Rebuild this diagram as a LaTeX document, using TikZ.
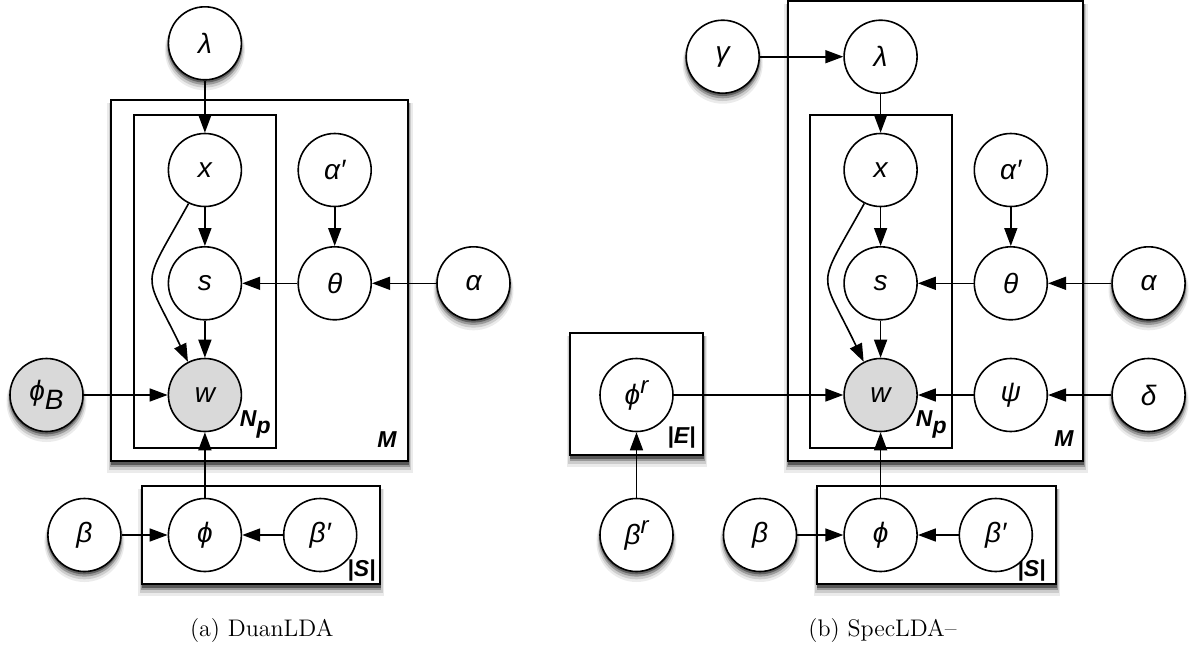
\documentclass[tikz,border=0pt]{standalone}
\usepackage{fontspec}
\usepackage{tikz}
\usetikzlibrary{arrows.meta}
\newfontfamily\graphfont{Liberation Sans}
\definecolor{obsgray}{HTML}{D9D9D9}

\begin{document}
\begin{tikzpicture}[x=0.5pt, y=-0.5pt,
  var/.style={circle, draw, line width=0.8pt, fill=white, minimum size=36.5pt, inner sep=0pt, font=\graphfont\itshape\fontsize{14}{16}\selectfont},
  obs/.style={var, fill=obsgray},
  plate/.style={draw, line width=1pt, fill=white},
  platelabel/.style={inner sep=0pt, font=\graphfont\bfseries\itshape\fontsize{11.5}{13}\selectfont},
  edge/.style={-{Triangle[length=9pt, width=6.5pt]}, line width=0.8pt},
  caption/.style={font=\fontsize{12}{14}\selectfont}]
  \useasboundingbox (0,0) rectangle (1190,649);

  % soft shadows under the outer plates and free variables
  \foreach \xa/\ya/\xb/\yb in {110.9/100/408.1/461, 141.5/485.7/379.5/584,
      787.8/1/1083.1/461, 570/333.3/702.7/455, 817.3/486/1055.7/584} {
    \fill[black!8] (\xa-3.5,\ya+3) rectangle (\xb+4.5,\yb+12);
    \fill[black!20] (\xa-2,\ya+3) rectangle (\xb+3,\yb+9);
    \fill[black!40] (\xa-0.5,\ya+3) rectangle (\xb+1.8,\yb+6);
    \fill[black!65] (\xa,\ya+3) rectangle (\xb+1,\yb+3.5);
  }
  \foreach \cx/\cy in {204.9/43.3, 473.5/283.3, 46.5/395, 84.4/535,
      722.7/56.7, 1148.6/283.3, 1148.6/395, 636.5/535, 760/535} {
    \fill[black!8] (\cx,\cy+7) circle[radius=40];
    \fill[black!20] (\cx,\cy+5.5) circle[radius=38.8];
    \fill[black!40] (\cx,\cy+4) circle[radius=37.6];
    \fill[black!62] (\cx,\cy+2.5) circle[radius=36.8];
  }

  % ---------- (a) DuanLDA ----------
  % plates
  \draw[plate] (110.9,100) rectangle (408.1,461);
  \draw[plate] (133.6,115.3) rectangle (275.5,447.7);
  \draw[plate] (141.5,485.7) rectangle (379.5,584);
  \node[platelabel, anchor=base east] (a-nplabel) at (271,426) {N\raisebox{-0.6ex}{p}};
  \node[platelabel, anchor=base east] (a-mlabel) at (397,447) {M};
  \node[platelabel, anchor=base east] (a-slabel) at (376,576) {|S|};

  % variables
  \node[var] (a-lambda) at (204.9,43.3) {λ};
  \node[var] (a-x) at (204.9,170) {x};
  \node[var] (a-alphap) at (334.7,170) {α′};
  \node[var] (a-s) at (204.9,283.3) {s};
  \node[var] (a-theta) at (334.7,283.3) {θ};
  \node[var] (a-alpha) at (473.5,283.3) {α};
  \node[obs] (a-w) at (204.9,395) {w};
  \node[obs] (a-phib) at (46.5,395) {ϕ\raisebox{-0.6ex}{B}};
  \node[var] (a-beta) at (84.4,535) {β};
  \node[var] (a-phi) at (204.9,535) {ϕ};
  \node[var] (a-betap) at (320.2,535) {β′};

  % edges
  \draw[edge] (a-lambda) -- (a-x);
  \draw[edge] (a-x) -- (a-s);
  \draw[edge] (a-alphap) -- (a-theta);
  \draw[edge] (a-theta) -- (a-s);
  \draw[edge] (a-alpha) -- (a-theta);
  \draw[edge] (a-s) -- (a-w);
  \draw[edge] (a-x.244) .. controls (139.3,292.5) and (143.1,268) .. (a-w.117);
  \draw[edge] (a-phib) -- (a-w);
  \draw[edge] (a-phi) -- (a-w);
  \draw[edge] (a-beta) -- (a-phi);
  \draw[edge] (a-betap) -- (a-phi);

  \node[caption] (a-cap) at (261.7,631) {(a) DuanLDA};

  % ---------- (b) SpecLDA- ----------
  % plates
  \draw[plate] (787.8,1) rectangle (1083.1,461);
  \draw[plate] (810.3,115.3) rectangle (951.7,447.7);
  \draw[plate] (570,333.3) rectangle (702.7,455);
  \draw[plate] (817.3,486) rectangle (1055.7,584);
  \node[platelabel, anchor=base east] (b-nplabel) at (947,426) {N\raisebox{-0.6ex}{p}};
  \node[platelabel, anchor=base east] (b-mlabel) at (1074,446) {M};
  \node[platelabel, anchor=base east] (b-elabel) at (696,443) {|E|};
  \node[platelabel, anchor=base east] (b-slabel) at (1046,576) {|S|};

  % variables
  \node[var] (b-gamma) at (722.7,56.7) {γ};
  \node[var] (b-lambda) at (880.6,56.7) {λ};
  \node[var] (b-x) at (880.6,170) {x};
  \node[var] (b-alphap) at (1010.8,170) {α′};
  \node[var] (b-s) at (880.6,283.3) {s};
  \node[var] (b-theta) at (1010.8,283.3) {θ};
  \node[var] (b-alpha) at (1148.6,283.3) {α};
  \node[obs] (b-w) at (880.6,395) {w};
  \node[var] (b-psi) at (1010.8,395) {ψ};
  \node[var] (b-delta) at (1148.6,395) {δ};
  \node[var] (b-phir) at (636.5,395) {ϕ\raisebox{0.75ex}{\fontsize{12}{12}\selectfont r}};
  \node[var] (b-betar) at (636.5,535) {β\raisebox{0.75ex}{\fontsize{12}{12}\selectfont r}};
  \node[var] (b-beta) at (760,535) {β};
  \node[var] (b-phi) at (880.6,535) {ϕ};
  \node[var] (b-betap) at (995.8,535) {β′};

  % edges
  \draw[edge] (b-gamma) -- (b-lambda);
  \draw[edge] (b-lambda) -- (b-x);
  \draw[edge] (b-x) -- (b-s);
  \draw[edge] (b-alphap) -- (b-theta);
  \draw[edge] (b-theta) -- (b-s);
  \draw[edge] (b-alpha) -- (b-theta);
  \draw[edge] (b-s) -- (b-w);
  \draw[edge] (b-x.244) .. controls (815,292.5) and (818.8,268) .. (b-w.117);
  \draw[edge] (b-phir) -- (b-w);
  \draw[edge] (b-psi) -- (b-w);
  \draw[edge] (b-delta) -- (b-psi);
  \draw[edge] (b-betar) -- (b-phir);
  \draw[edge] (b-phi) -- (b-w);
  \draw[edge] (b-beta) -- (b-phi);
  \draw[edge] (b-betap) -- (b-phi);

  \node[caption] (b-cap) at (882.5,631) {(b) SpecLDA–};
\end{tikzpicture}
\end{document}
